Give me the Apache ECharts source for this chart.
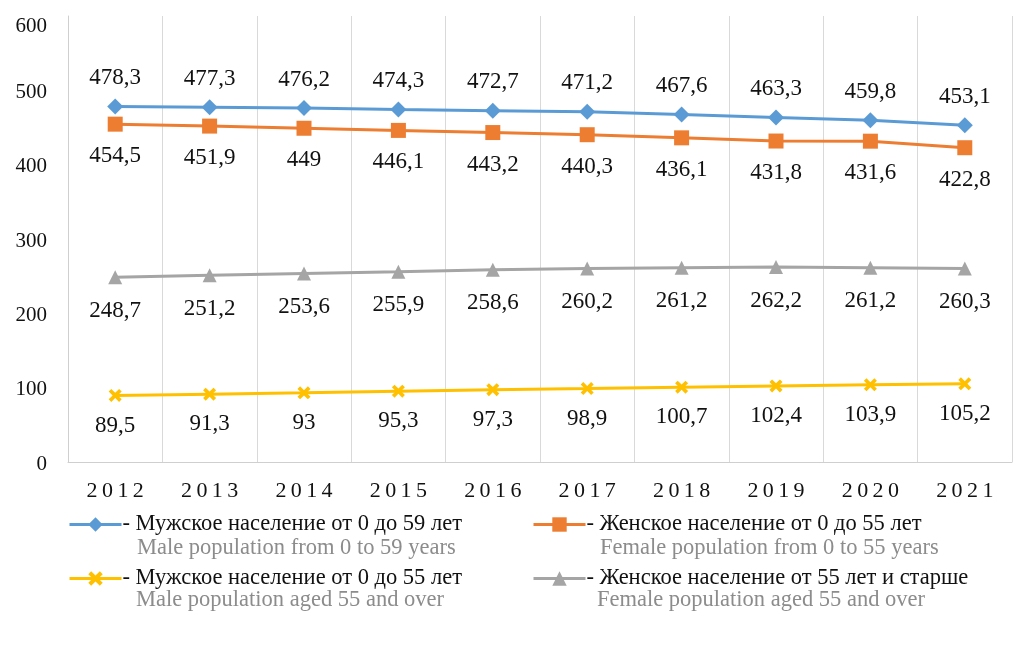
<!DOCTYPE html>
<html>
<head>
<meta charset="utf-8">
<script src="https://cdn.jsdelivr.net/npm/echarts@6/dist/echarts.min.js"></script>
<style>html,body{margin:0;padding:0;background:#fff}#c{width:1025px;height:656px}</style>
</head>
<body>
<div id="c"></div>
<script>
const years = ['2012','2013','2014','2015','2016','2017','2018','2019','2020','2021'];
const maleTo59 = [478.3,477.3,476.2,474.3,472.7,471.2,467.6,463.3,459.8,453.1];
const femaleTo55 = [454.5,451.9,449,446.1,443.2,440.3,436.1,431.8,431.6,422.8];
const female55Plus = [248.7,251.2,253.6,255.9,258.6,260.2,261.2,262.2,261.2,260.3];
const maleTo55 = [89.5,91.3,93,95.3,97.3,98.9,100.7,102.4,103.9,105.2];
const namesRu = ['Мужское население от 0 до 59 лет','Женское население от 0 до 55 лет','Мужское население от 0 до 55 лет','Женское население от 55 лет и старше'];
const namesEn = ['Male population from 0 to 59 years','Female population from 0 to 55 years','Male population aged 55 and over','Female population aged 55 and over'];
const yTicks = [0,100,200,300,400,500,600];

const serif = '"Liberation Serif","DejaVu Serif",serif';
const fmt = p => String(p.value).replace('.', ',');
const xPath = 'path://M0,2 L2,0 L5,3 L8,0 L10,2 L7,5 L10,8 L8,10 L5,7 L2,10 L0,8 L3,5 Z';

function mkSeries(name, data, color, symbol, size, pos, dist) {
  return {
    name, type: 'line', data, symbol, symbolSize: size,
    lineStyle: {color, width: 3}, itemStyle: {color},
    label: {show: true, position: pos, distance: dist, formatter: fmt,
      fontFamily: serif, fontSize: 23, color: '#111'}
  };
}
const chart = echarts.init(document.getElementById('c'));
const legendBase = {
  itemWidth: 52, itemHeight: 18, itemGap: 0, padding: 0,
  formatter: '- {name}',
  lineStyle: {width: 3},
  textStyle: {fontFamily: serif, fontSize: 22.5, color: '#111', padding: [0,0,0,-4]}
};
const enFont = '22.5px ' + serif;
const yRich = {fontFamily: serif, fontSize: 21, color: '#111'};
chart.setOption({
  animation: false,
  grid: {left: 68, right: 13, top: 16, bottom: 194},
  xAxis: {
    type: 'category', data: years, boundaryGap: true,
    axisLine: {show: true, lineStyle: {color: '#cfcfcf', width: 1}},
    axisTick: {show: false},
    splitLine: {show: true, lineStyle: {color: '#d9d9d9', width: 1}},
    axisLabel: {fontFamily: serif, fontSize: 22, color: '#111', margin: 18,
      formatter: v => v.split('').join('\u2009')}
  },
  yAxis: {
    type: 'value', min: yTicks[0], max: yTicks[yTicks.length-1], interval: 100,
    axisLine: {show: true, lineStyle: {color: '#cfcfcf'}},
    axisTick: {show: false},
    splitLine: {show: false},
    axisLabel: {fontFamily: serif, fontSize: 21, color: '#111', margin: 21,
      formatter: v => v === 600 ? '{top|' + v + '}' : '{n|' + v + '}',
      rich: {top: Object.assign({padding: [20,0,0,0]}, yRich), n: Object.assign({padding: [4,0,0,0]}, yRich)}}
  },
  legend: [
    Object.assign({}, legendBase, {data: [namesRu[0]], left: 68, top: 513}),
    Object.assign({}, legendBase, {data: [namesRu[1]], left: 532, top: 513}),
    Object.assign({}, legendBase, {data: [namesRu[2]], left: 68, top: 567}),
    Object.assign({}, legendBase, {data: [namesRu[3]], left: 532, top: 567})
  ],
  graphic: [
    {type: 'text', left: 137, top: 537, style: {text: namesEn[0], font: enFont, fill: '#8c8c8c'}},
    {type: 'text', left: 600, top: 537, style: {text: namesEn[1], font: enFont, fill: '#8c8c8c'}},
    {type: 'text', left: 136, top: 589, style: {text: namesEn[2], font: enFont, fill: '#8c8c8c'}},
    {type: 'text', left: 597, top: 589, style: {text: namesEn[3], font: enFont, fill: '#8c8c8c'}}
  ],
  series: [
    mkSeries(namesRu[0], maleTo59, '#5B9BD5', 'diamond', 16, 'top', 9),
    mkSeries(namesRu[1], femaleTo55, '#ED7D31', 'rect', 15, 'bottom', 13),
    mkSeries(namesRu[2], maleTo55, '#FFC000', xPath, 13, 'bottom', 12),
    mkSeries(namesRu[3], female55Plus, '#A5A5A5', 'triangle', 14, 'bottom', 15)
  ]
});
</script>
</body>
</html>
